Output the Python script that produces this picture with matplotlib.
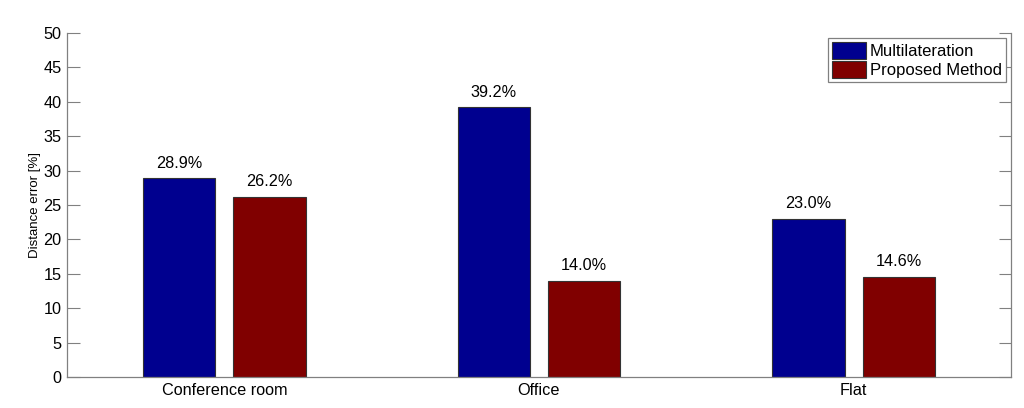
import numpy as np
import matplotlib.pyplot as plt

categories = ['Conference room', 'Office', 'Flat']
multilateration = [28.9, 39.2, 23.0]
proposed = [26.2, 14.0, 14.6]
series_names = ['Multilateration', 'Proposed Method']


def main():
    plt.rcParams['font.family'] = ['Liberation Sans', 'DejaVu Sans']

    fig = plt.figure(figsize=(10.24, 4.08), dpi=100)
    ax = fig.add_axes([67 / 1024, 1 - 377 / 408, 944 / 1024, 344 / 408])

    x = np.arange(1, len(categories) + 1)
    w = 0.23
    off = 0.144
    b1 = ax.bar(x - off, multilateration, w, color='#00008f', edgecolor='#333333',
                linewidth=0.8, label=series_names[0])
    b2 = ax.bar(x + off, proposed, w, color='#800000', edgecolor='#333333',
                linewidth=0.8, label=series_names[1])

    for bars, vals in ((b1, multilateration), (b2, proposed)):
        for rect, v in zip(bars, vals):
            ax.text(rect.get_x() + rect.get_width() / 2, v + 1.1, f'{v:.1f}%',
                    ha='center', va='bottom', fontsize=11.7)

    ax.set_xlim(0.5, 3.5)
    ax.set_ylim(0, 50)
    ax.set_yticks(np.arange(0, 51, 5))
    ax.set_xticks(x)
    ax.set_xticklabels(categories)
    ax.set_ylabel('Distance error [%]', fontsize=9.5, labelpad=2)

    ax.spines['top'].set_visible(False)
    for s in ('left', 'right', 'bottom'):
        ax.spines[s].set_color('#808080')
        ax.spines[s].set_linewidth(0.9)
    ax.tick_params(axis='y', direction='in', length=9, color='#808080',
                   right=True, labelsize=11.7, pad=4)
    ax.tick_params(axis='x', direction='in', length=0, labelsize=11.7, pad=4)

    leg = ax.legend(loc='upper right', fontsize=12, fancybox=False,
                    framealpha=1, edgecolor='#808080', borderpad=0.25,
                    handlelength=2.0, handleheight=1.15, handletextpad=0.25,
                    labelspacing=0.12, borderaxespad=0.3)
    leg.get_frame().set_linewidth(0.9)

    fig.savefig('out.png', dpi=100)


if __name__ == "__main__":
    main()
